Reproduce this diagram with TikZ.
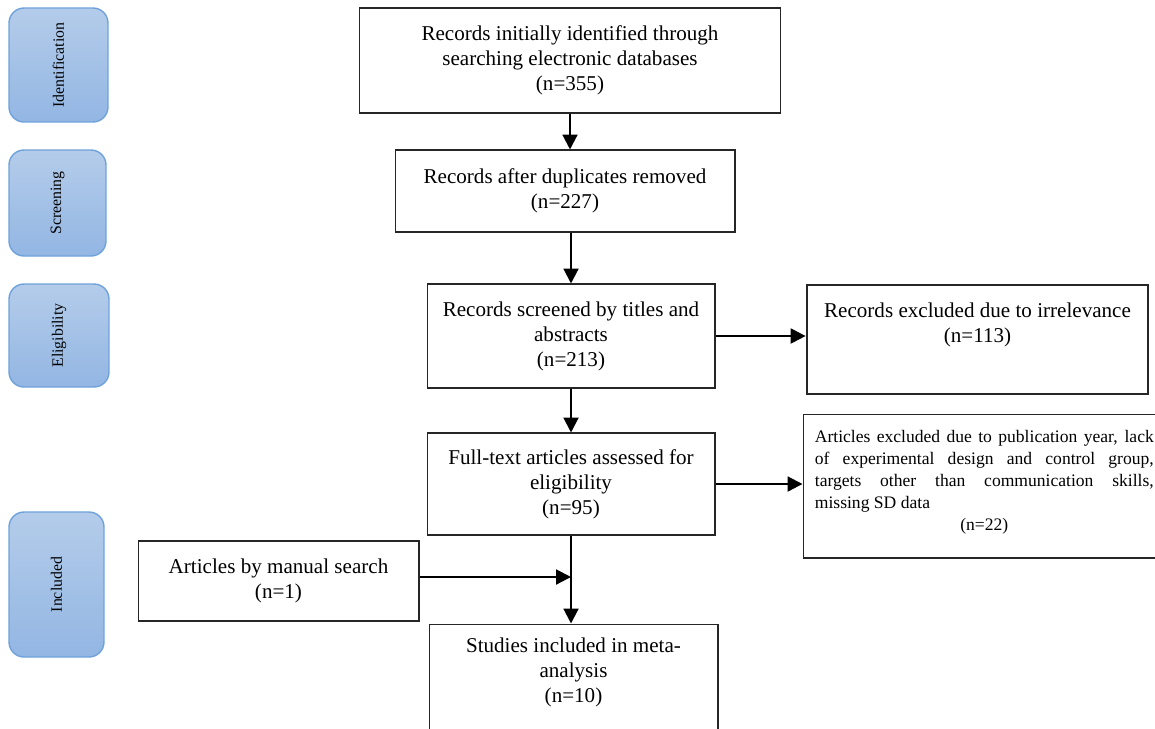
\documentclass[tikz,border=0pt]{standalone}
\usepackage{fontspec}
\setmainfont{Liberation Serif}
\usetikzlibrary{arrows.meta}
\usetikzlibrary{positioning}
\definecolor{stagetop}{HTML}{B4CCEA}
\definecolor{stagebot}{HTML}{93B6E3}
\definecolor{stageline}{HTML}{6FA2DA}
\newcommand{\stage}[6] % name, x, y, width, height, label
{
	% rounded blue box
	\node[stagebox, minimum width=#4, minimum height=#5] (#1) at (#2,#3) {};
	% label turned up
	\node[rotate=90, font=\fontsize{9}{10}\selectfont] (#1-text) at (#1.center) {#6};
}
\begin{document}
\begin{tikzpicture}[x=0.02cm, y=-0.02cm,
	box/.style={draw=black!85, line width=0.6pt, align=center, inner sep=0pt, font=\fontsize{12}{14.2}\selectfont},
	boxtext/.style={align=center, inner sep=0pt, font=\fontsize{12}{14.2}\selectfont},
	smalltext/.style={align=justify, inner sep=0pt, text width=6.78cm, font=\fontsize{10}{12.6}\selectfont},
	stagebox/.style={draw=stageline, line width=0.8pt, rounded corners=0.3cm, top color=stagetop, bottom color=stagebot},
	arr/.style={line width=1.2pt, -{Triangle[length=8.5pt,width=8.5pt]}}]
	% 1155 x 728 px, 1px = 0.02cm
	\clip (0,0) rectangle (1155,728);
	
	\stage{ident}{58.5}{65}{1.98cm}{2.28cm}{Identification}
	\stage{screening}{57.5}{203}{1.94cm}{2.12cm}{Screening}
	\stage{elig}{59}{335.5}{2cm}{2.06cm}{Eligibility}
	\stage{included}{56.5}{584.5}{1.9cm}{2.9cm}{Included}
	
	\node[box, minimum width=8.44cm, minimum height=2.1cm] (init) at (570,60.5) {Records initially identified through\\searching electronic databases\\(n=355)};
	\node[box, minimum width=6.8cm, minimum height=1.64cm] (dup) at (565,191) {Records after duplicates removed\\(n=227)};
	\node[box, minimum width=5.76cm, minimum height=2.08cm] (screen) at (571,336) {Records screened by titles and\\abstracts\\(n=213)};
	\node[box, minimum width=5.76cm, minimum height=2.04cm] (full) at (571,484) {Full-text articles assessed for\\eligibility\\(n=95)};
	\node[box, minimum width=5.62cm, minimum height=1.6cm] (manual) at (278.5,581) {Articles by manual search\\(n=1)};
	
	\node[box, minimum width=5.78cm, minimum height=2.4cm] (studies) at (573.5,684) {};
	\node[boxtext, below=0.28cm of studies.north] (studies-text) {Studies included in meta-\\analysis\\(n=10)};
	
	\node[box, line width=1.6pt, minimum width=6.82cm, minimum height=2.18cm] (irrel) at (977.5,339.5) {};
	\node[boxtext, below=0.38cm of irrel.north] (irrel-text) {Records excluded due to irrelevance\\(n=113)};
	
	\node[box, minimum width=7.34cm, minimum height=2.88cm] (lack) at (986.5,486) {};
	\node[smalltext, below right=0.32cm and 0.24cm of lack.north west] (lack-text) {\hyphenpenalty=10000 Articles excluded due to publication year, lack\linebreak of experimental design and control group,\linebreak targets other than communication skills,\linebreak missing SD data\par{\centering (n=22)\par}};
	
	\draw[arr] (init.south) -- (init.south |- dup.north);
	\draw[arr] (screen.north |- dup.south) -- (screen.north);
	\draw[arr] (screen.south) -- (full.north);
	\draw[arr] (full.south) -- (full.south |- studies.north);
	\draw[arr] (screen.east) -- (screen.east -| irrel.west);
	\draw[arr] (full.east) -- (full.east -| lack.west);
	\draw[arr] ([yshift=0.08cm]manual.east) -- ([yshift=0.08cm]manual.east -| full.south);
	
\end{tikzpicture}
\end{document}
